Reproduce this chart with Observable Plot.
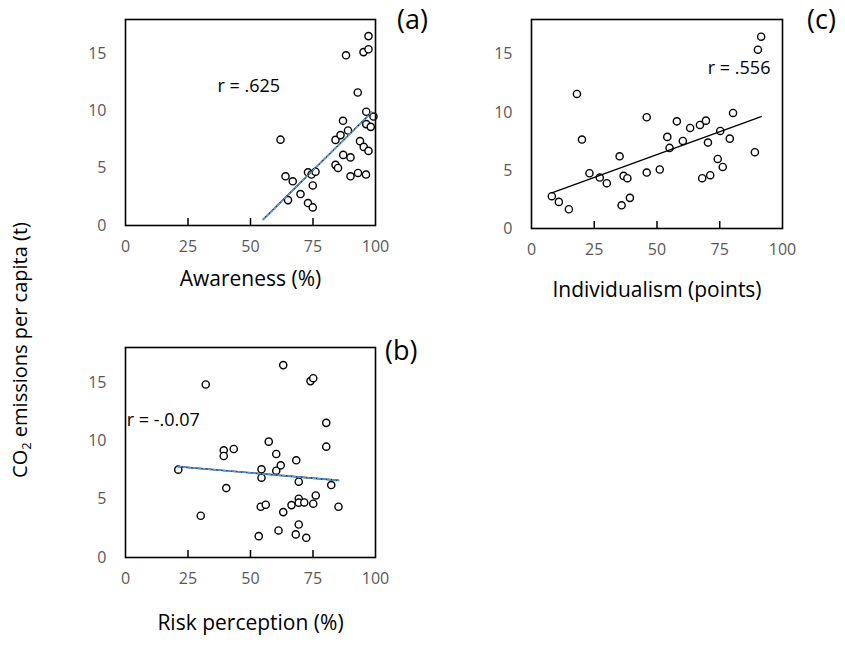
<!DOCTYPE html>
<html>
<head>
<meta charset="utf-8">
<script src="https://cdn.jsdelivr.net/npm/d3@7"></script>
<script src="https://cdn.jsdelivr.net/npm/@observablehq/plot@0.6"></script>
<style>
  html, body { margin: 0; padding: 0; background: #fff; }
  #root { position: relative; width: 845px; height: 645px; font-family: "Open Sans", sans-serif; overflow: hidden; }
  .panel { position: absolute; left: 0; top: 0; }
  .plabel { position: absolute; font-size: 27px; color: #000; line-height: 1.4; }
  .ytitle { position: absolute; font-size: 20px; white-space: nowrap; transform: translate(-50%, -50%) rotate(-90deg); left: 20px; top: 350px; }
</style>
</head>
<body>
<div id="root"></div>
<script>
// ---- data ----
const xTicks = [0, 25, 50, 75, 100];
const xInner = [25, 50, 75];
const yTicks = [0, 5, 10, 15];

const awarenessX = [62, 64, 66.9, 65, 70, 73, 74.4, 76, 74.9, 73, 74.9, 84, 86, 87, 89, 84, 85, 87.1, 90, 90, 93, 96.2, 88.2, 92.9, 95.2, 97.2, 97.2, 96.3, 99.2, 96.3, 98.1, 93.8, 95.3, 97.2];
const awarenessY = [7.5, 4.3, 3.86, 2.22, 2.75, 4.65, 4.45, 4.7, 3.5, 1.96, 1.58, 7.48, 7.9, 9.15, 8.3, 5.3, 5.03, 6.17, 5.95, 4.3, 4.59, 4.45, 14.87, 11.62, 15.15, 15.4, 16.55, 9.94, 9.52, 8.86, 8.62, 7.37, 6.87, 6.52];
const trendAwarenessX = [55.1, 98.5];
const trendAwarenessY = [0.53, 9.9];

const individualismX = [8.1, 10.9, 14.9, 18.1, 20.1, 23.1, 27.2, 30, 35.1, 36.7, 38.2, 35.9, 39.2, 45.9, 45.9, 51.1, 54.1, 55, 57.9, 60.3, 63.2, 67.1, 69.5, 70.3, 68, 71.2, 74.2, 75.2, 76.2, 79, 80.3, 89, 90.2, 91.5];
const individualismY = [2.78, 2.29, 1.66, 11.59, 7.66, 4.76, 4.39, 3.9, 6.22, 4.53, 4.33, 2.0, 2.64, 9.58, 4.82, 5.08, 7.89, 6.94, 9.23, 7.54, 8.66, 8.92, 9.29, 7.4, 4.33, 4.59, 5.99, 8.4, 5.3, 7.74, 9.95, 6.57, 15.4, 16.52];
const trendIndividualismX = [8.1, 91.5];
const trendIndividualismY = [3.07, 9.64];

const riskX = [21.1, 30.1, 32.1, 39.3, 39.3, 43.3, 40.3, 53.3, 54.1, 54.4, 54.4, 56.1, 57.3, 60.3, 60.3, 62.1, 63.1, 63.1, 61.2, 66.4, 68.3, 68.1, 69.3, 69.3, 69.3, 69.3, 71.5, 72.3, 74, 75.1, 75.1, 76.1, 80.3, 80.3, 82.3, 85.2];
const riskY = [7.53, 3.58, 14.83, 9.19, 8.7, 9.3, 5.95, 1.83, 4.35, 7.56, 6.84, 4.52, 9.93, 8.87, 7.44, 7.9, 16.49, 3.89, 2.32, 4.49, 8.33, 1.98, 2.83, 6.5, 5.04, 4.7, 4.72, 1.69, 15.12, 15.37, 4.61, 5.32, 11.54, 9.5, 6.21, 4.35];
const trendRiskX = [21.1, 85.2];
const trendRiskY = [7.79, 6.61];

const rLabels = ["r = .625", "r = .556", "r = -.0.07"];
const rLabelX = [36.8, 95.2, 0.5];
const rLabelY = [12.2, 13.8, 11.74];
const xTitles = ["Awareness (%)", "Individualism (points)", "Risk perception (%)"];
const panelLabels = ["(a)", "(c)", "(b)"];

// ---- helpers ----
const zip = (xs, ys) => xs.map((x, i) => ({x, y: ys[i]}));

function panel({xs, ys, tx, ty, dashedTrend, label, lx, ly, anchor, title, titleDy, w, h, ml, mr, mt, mb}) {
  const frameH = h - mt - mb;
  const pts = zip(xs, ys);
  const trend = zip(tx, ty);
  const trendMarks = dashedTrend
    ? [
        Plot.line(trend, {x: "x", y: "y", stroke: "#1f2f4a", strokeWidth: 1.6}),
        Plot.line(trend, {x: "x", y: "y", stroke: "#5b9bd5", strokeWidth: 1.6, strokeDasharray: "2.5,2.5"})
      ]
    : [Plot.line(trend, {x: "x", y: "y", stroke: "#000", strokeWidth: 1.4})];
  return Plot.plot({
    width: w, height: h,
    marginLeft: ml, marginRight: mr, marginTop: mt, marginBottom: mb,
    x: {domain: [0, 100]},
    y: {domain: [0, 18]},
    style: {fontFamily: "'Open Sans', sans-serif", background: "transparent", overflow: "visible"},
    marks: [
      Plot.axisY(yTicks, {tickSize: 0, tickPadding: 19, fontSize: 16, fill: "#595959", label: null}),
      Plot.axisX(xTicks, {tickSize: 0, tickPadding: 15, fontSize: 16, fill: "#595959", label: null}),
      Plot.tickX(xInner, {x: d => d, insetTop: frameH - 7, stroke: "#000", strokeWidth: 1.5}),
      Plot.dot(pts, {x: "x", y: "y", r: 3.6, fill: "white", stroke: "#000", strokeWidth: 1.4}),
      ...trendMarks,
      Plot.frame({stroke: "#000", strokeWidth: 1.6}),
      Plot.text([label], {x: () => lx, y: () => ly, text: d => d, textAnchor: anchor, fontSize: 18, fill: "#000"}),
      Plot.text([title], {frameAnchor: "bottom", dy: titleDy, text: d => d, fontSize: 21, fill: "#000"})
    ]
  });
}

const root = document.getElementById("root");
function place(node, left, top) {
  node.classList.add("panel");
  node.style.left = left + "px";
  node.style.top = top + "px";
  root.appendChild(node);
}

// (a) frame x 125-375, y 19-225
place(panel({xs: awarenessX, ys: awarenessY, tx: trendAwarenessX, ty: trendAwarenessY, dashedTrend: true,
  label: rLabels[0], lx: rLabelX[0], ly: rLabelY[0], anchor: "start",
  title: xTitles[0], titleDy: 60,
  w: 420, h: 310, ml: 125, mr: 45, mt: 19, mb: 85}), 0, 0);

// (c) frame x 531-782, y 19-228
place(panel({xs: individualismX, ys: individualismY, tx: trendIndividualismX, ty: trendIndividualismY, dashedTrend: false,
  label: rLabels[1], lx: rLabelX[1], ly: rLabelY[1], anchor: "end",
  title: xTitles[1], titleDy: 68,
  w: 420, h: 320, ml: 111, mr: 58, mt: 19, mb: 92}), 420, 0);

// (b) frame x 125-375, y 347-557
place(panel({xs: riskX, ys: riskY, tx: trendRiskX, ty: trendRiskY, dashedTrend: true,
  label: rLabels[2], lx: rLabelX[2], ly: rLabelY[2], anchor: "start",
  title: xTitles[2], titleDy: 72,
  w: 420, h: 298, ml: 125, mr: 45, mt: 17, mb: 71}), 0, 330);

// panel letters
const letterPos = [[397, 0], [807, 0], [385, 331]];
panelLabels.forEach((t, i) => {
  const d = document.createElement("div");
  d.className = "plabel";
  d.textContent = t;
  d.style.left = letterPos[i][0] + "px";
  d.style.top = letterPos[i][1] + "px";
  root.appendChild(d);
});

// shared y title
const yt = document.createElement("div");
yt.className = "ytitle";
yt.innerHTML = "CO<sub style=\"font-size:13px;vertical-align:-4px\">2</sub> emissions per capita (t)";
root.appendChild(yt);
</script>
</body>
</html>
